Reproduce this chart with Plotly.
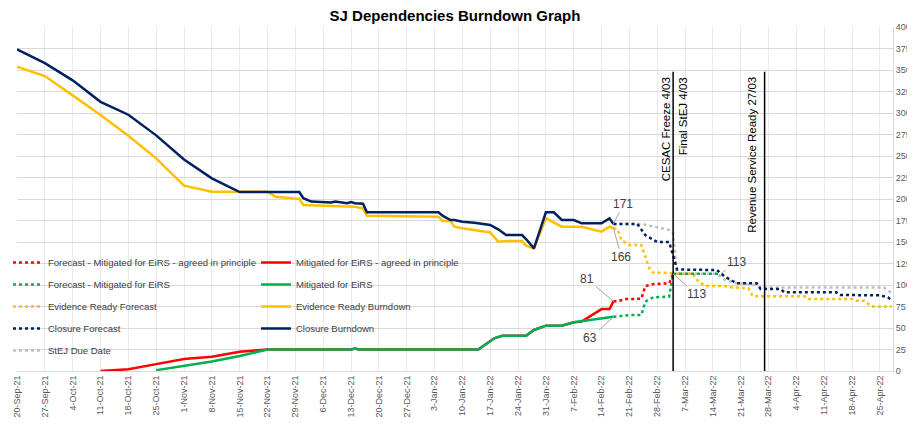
import plotly.graph_objects as go

# ---------------- data ----------------
closure_dates = ["2021-09-20", "2021-09-27", "2021-10-04", "2021-10-11", "2021-10-18", "2021-10-25",
                 "2021-11-01", "2021-11-08", "2021-11-15", "2021-11-22", "2021-11-30", "2021-12-01",
                 "2021-12-03", "2021-12-08", "2021-12-09", "2021-12-12", "2021-12-13", "2021-12-14",
                 "2021-12-16", "2021-12-17", "2022-01-04", "2022-01-05", "2022-01-07", "2022-01-08",
                 "2022-01-10", "2022-01-13", "2022-01-17", "2022-01-19", "2022-01-21", "2022-01-25",
                 "2022-01-26", "2022-01-28", "2022-01-31", "2022-02-02", "2022-02-04", "2022-02-07",
                 "2022-02-09", "2022-02-14", "2022-02-16", "2022-02-17"]
closure_vals = [374, 358, 338, 313, 298, 274,
                246, 224, 208, 208, 208, 201,
                197, 196, 197, 195, 196.5, 195,
                194.5, 184.5, 184.5, 180.6, 175.6, 175.6,
                173.6, 172.5, 169.8, 164.7, 158, 158,
                153.5, 142.6, 184.5, 184.5, 175.6, 175.6,
                171.7, 171.7, 177.5, 171]

evidence_dates = ["2021-09-20", "2021-09-27", "2021-10-04", "2021-10-11", "2021-10-18", "2021-10-25",
                  "2021-11-01", "2021-11-08", "2021-11-15", "2021-11-22", "2021-11-24", "2021-11-30",
                  "2021-12-01", "2021-12-08", "2021-12-14", "2021-12-16", "2021-12-17", "2022-01-04",
                  "2022-01-05", "2022-01-07", "2022-01-08", "2022-01-10", "2022-01-17", "2022-01-19",
                  "2022-01-21", "2022-01-25", "2022-01-26", "2022-01-28", "2022-01-31", "2022-02-04",
                  "2022-02-09", "2022-02-14", "2022-02-16", "2022-02-17"]
evidence_vals = [354, 343, 320.5, 297.7, 273.6, 247.3,
                 215.5, 208.5, 208.5, 208.5, 202.7, 200,
                 193, 192.2, 191, 189, 180.6, 179.5,
                 174.4, 174.4, 167.8, 165.9, 161, 150.4,
                 151.2, 151.2, 145.7, 142.6, 177.5, 167.8,
                 167.8, 162, 167.8, 166]

mit_aip_dates = ["2021-10-11", "2021-10-18", "2021-10-25", "2021-11-01", "2021-11-08", "2021-11-15",
                 "2021-11-22", "2021-12-13", "2021-12-14", "2021-12-15", "2022-01-14", "2022-01-18",
                 "2022-01-20", "2022-01-26", "2022-01-28", "2022-01-31", "2022-02-04", "2022-02-07",
                 "2022-02-09", "2022-02-14", "2022-02-16", "2022-02-17"]
mit_aip_vals = [0, 2, 8, 14, 16.5, 22.5,
                25, 25, 26, 25, 25, 38,
                41, 41, 47.7, 52.7, 52.7, 56.6,
                57.4, 72, 72, 81]

mit_dates = ["2021-10-25", "2021-11-01", "2021-11-08", "2021-11-15", "2021-11-22", "2021-12-13",
             "2021-12-14", "2021-12-15", "2022-01-14", "2022-01-18", "2022-01-20", "2022-01-26",
             "2022-01-28", "2022-01-31", "2022-02-04", "2022-02-07", "2022-02-09", "2022-02-17"]
mit_vals = [1, 6, 11, 17.5, 25, 25,
            26, 25, 25, 38, 41, 41,
            47.7, 52.7, 52.7, 56.6, 58, 63]

fc_aip_dates = ["2022-02-17", "2022-02-18", "2022-02-20", "2022-02-24", "2022-02-25", "2022-02-27",
                "2022-03-03", "2022-03-04"]
fc_aip_vals = [81, 81, 83.7, 84, 98.8, 101, 102, 113]

fc_mit_dates = ["2022-02-17", "2022-02-21", "2022-02-24", "2022-02-25", "2022-02-27", "2022-03-03",
                "2022-03-04", "2022-03-16"]
fc_mit_vals = [63, 65, 65, 80.6, 85.7, 86.5, 113, 113]

fc_evid_dates = ["2022-02-17", "2022-02-18", "2022-02-19", "2022-02-21", "2022-02-24", "2022-02-25",
                 "2022-02-26", "2022-02-27", "2022-03-03", "2022-03-04", "2022-03-09", "2022-03-10",
                 "2022-03-12", "2022-03-17", "2022-03-18", "2022-03-23", "2022-03-24", "2022-04-06",
                 "2022-04-07", "2022-04-18", "2022-04-19", "2022-04-21", "2022-04-23", "2022-04-28"]
fc_evid_vals = [166, 165, 152, 146.5, 146.5, 133,
                119.4, 114.3, 114.3, 113, 113, 105.8,
                98.8, 98.8, 97.5, 96, 87, 87,
                83.7, 83.7, 81.7, 81.7, 75, 75]

fc_close_dates = ["2022-02-17", "2022-02-23", "2022-02-25", "2022-02-28", "2022-03-03", "2022-03-04",
                  "2022-03-05", "2022-03-15", "2022-03-17", "2022-03-20", "2022-03-25", "2022-03-26",
                  "2022-03-31", "2022-04-01", "2022-04-14", "2022-04-15", "2022-04-25", "2022-04-27",
                  "2022-04-28"]
fc_close_vals = [171, 171, 158, 150, 150, 133,
                 118, 117.4, 109.7, 102, 102, 95.3,
                 95.3, 91.5, 91.5, 88.4, 88, 85.7,
                 82]

stej_dates = ["2022-02-17", "2022-02-24", "2022-02-27", "2022-03-03", "2022-03-04", "2022-03-05",
              "2022-03-15", "2022-03-17", "2022-03-20", "2022-03-25", "2022-03-26", "2022-04-26",
              "2022-04-27", "2022-04-28"]
stej_vals = [171, 171, 168, 164, 160, 113,
             113, 106, 102, 100, 97, 97,
             94, 90]

milestone_dates = ["2022-03-04", "2022-03-27"]
milestone_texts = ["CESAC Freeze 4/03", "Final StEJ 4/03", "Revenue Service Ready 27/03"]

# ---------------- styling ----------------
NAVY = "#002060"
GOLD = "#FFC000"
RED = "#FF0000"
GREEN = "#00B050"
GREY = "#BFBFBF"
FONT = "Liberation Sans, Arial, sans-serif"

fig = go.Figure()


def add(name, xs, ys, color, dotted, rank, legend):
    fig.add_trace(go.Scatter(
        x=xs, y=ys, mode="lines", name=name,
        line=dict(color=color, width=2.5, dash="3px,3px" if dotted else "solid"),
        legend=legend, legendgroup=name, legendrank=rank, hoverinfo="skip"))


# drawing order (bottom -> top)
add("StEJ Due Date", stej_dates, stej_vals, GREY, True, 5, "legend")
add("Evidence Ready Forecast", fc_evid_dates, fc_evid_vals, GOLD, True, 3, "legend")
add("Closure Forecast", fc_close_dates, fc_close_vals, NAVY, True, 4, "legend")
add("Forecast - Mitigated for EiRS", fc_mit_dates, fc_mit_vals, GREEN, True, 2, "legend")
add("Forecast - Mitigated for EiRS - agreed in principle", fc_aip_dates, fc_aip_vals, RED, True, 1, "legend")
add("Mitigated for EiRS - agreed in principle", mit_aip_dates, mit_aip_vals, RED, False, 1, "legend2")
add("Mitigated for EiRS", mit_dates, mit_vals, GREEN, False, 2, "legend2")
add("Evidence Ready Burndown", evidence_dates, evidence_vals, GOLD, False, 3, "legend2")
add("Closure Burndown", closure_dates, closure_vals, NAVY, False, 4, "legend2")

# milestone lines
for d in milestone_dates:
    fig.add_shape(type="line", xref="x", yref="y", x0=d, x1=d, y0=0, y1=348,
                  line=dict(color="#000000", width=1.5))

ms_font = dict(family=FONT, size=11.5, color="#000000")
fig.add_annotation(x=milestone_dates[0], y=344, xref="x", yref="y", text=milestone_texts[0],
                   textangle=-90, showarrow=False, xanchor="right", yanchor="top", xshift=1, font=ms_font)
fig.add_annotation(x=milestone_dates[0], y=344, xref="x", yref="y", text=milestone_texts[1],
                   textangle=-90, showarrow=False, xanchor="left", yanchor="top", xshift=2, font=ms_font)
fig.add_annotation(x=milestone_dates[1], y=344, xref="x", yref="y", text=milestone_texts[2],
                   textangle=-90, showarrow=False, xanchor="right", yanchor="top", xshift=-4, font=ms_font)

# data labels with leader lines
lbl_font = dict(family=FONT, size=12, color="#404040")
labels = [
    (closure_dates[-1], closure_vals[-1], 10, -20),
    (evidence_dates[-1], evidence_vals[-1], 8, 29),
    (mit_aip_dates[-1], mit_aip_vals[-1], -26, -22),
    (mit_dates[-1], mit_vals[-1], -23, 21),
    (fc_mit_dates[-2], fc_mit_vals[-2], 23, 20),
    (fc_mit_dates[-1], fc_mit_vals[-1], 16, -12),
]
for x, y, ax, ay in labels:
    fig.add_annotation(x=x, y=y, xref="x", yref="y", text=f"{y:.0f}", showarrow=True,
                       arrowhead=0, arrowwidth=1, arrowcolor="#A6A6A6", ax=ax, ay=ay,
                       standoff=0, font=lbl_font)

# the page body has an 8px margin: size/margins chosen so the plot area lands where the reference has it
leg_font = dict(family=FONT, size=9.5, color="#404040")
fig.update_layout(
    width=907, height=417,
    margin=dict(l=9, r=22, t=19, b=54, autoexpand=False),
    paper_bgcolor="white", plot_bgcolor="white",
    title=dict(text="<b>SJ Dependencies Burndown Graph</b>", x=0.5, xref="paper", xanchor="center",
               y=0.995, yanchor="top", pad=dict(t=0, b=0),
               font=dict(family="Liberation Sans, Arial", size=15, color="#000000")),
    showlegend=True,
    legend=dict(x=-0.0103, y=0.3576, xanchor="left", yanchor="top", orientation="v",
                bgcolor="rgba(0,0,0,0)", font=leg_font, tracegroupgap=3, traceorder="grouped"),
    legend2=dict(x=0.2728, y=0.3576, xanchor="left", yanchor="top", orientation="v",
                 bgcolor="rgba(0,0,0,0)", font=leg_font, tracegroupgap=3, traceorder="grouped"),
    xaxis=dict(type="date", range=["2021-09-20", "2022-04-28 07:00"], tick0="2021-09-20",
               dtick=7 * 86400000, tickformat="%-d-%b-%y", tickangle=-90,
               tickfont=dict(family=FONT, size=9, color="#595959"),
               showgrid=True, gridcolor="#EBEBEB", gridwidth=1,
               showline=True, linecolor="#D9D9D9", linewidth=1, ticks="", automargin=False,
               zeroline=False),
    yaxis=dict(range=[0, 400], dtick=25, side="right",
               tickfont=dict(family=FONT, size=9, color="#595959"),
               showgrid=True, gridcolor="#D9D9D9", gridwidth=1,
               showline=True, linecolor="#D9D9D9", ticks="", automargin=False, zeroline=False),
)

fig.write_html("out.html")
